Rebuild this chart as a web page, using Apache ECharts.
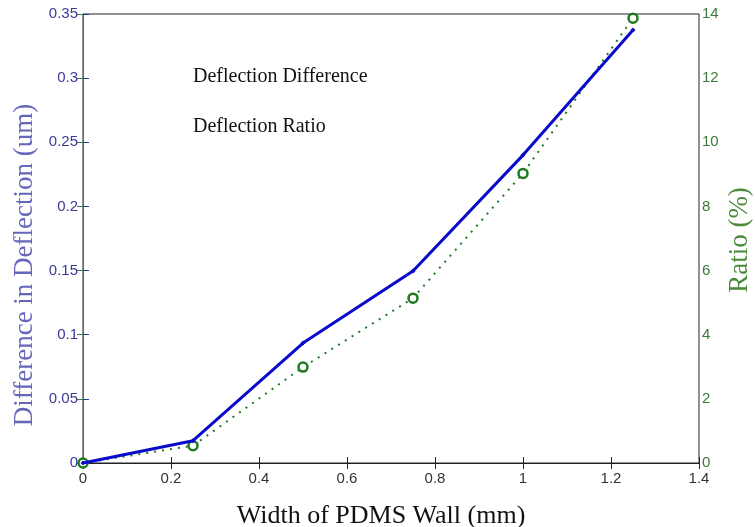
<!DOCTYPE html>
<html>
<head>
<meta charset="utf-8">
<script src="https://cdn.jsdelivr.net/npm/echarts@6/dist/echarts.min.js"></script>
<style>
  html, body { margin: 0; padding: 0; background: #fff; }
  #chart { width: 755px; height: 527px; }
</style>
</head>
<body>
<div id="chart"></div>
<script>
// Wall width (mm)
const widths = [0, 0.25, 0.5, 0.75, 1.0, 1.25];
// Difference in deflection (um)
const deflectionDiff = [0, 0.0174, 0.0935, 0.1497, 0.240, 0.3375];
// Deflection ratio (%)
const deflectionRatio = [0, 0.54, 2.99, 5.14, 9.03, 13.87];

const serif = '"Liberation Serif", "Times New Roman", serif';
const sans = '"Liberation Sans", Arial, sans-serif';

const chart = echarts.init(document.getElementById('chart'));

chart.setOption({
  animation: false,
  grid: {
    left: 83, right: 56, top: 14, bottom: 64,
    containLabel: false, outerBoundsMode: 'none',
    show: true, borderColor: '#222', borderWidth: 1
  },
  xAxis: [{
    type: 'value',
    min: 0, max: 1.4, interval: 0.2,
    name: 'Width of PDMS Wall (mm)',
    nameLocation: 'middle',
    nameGap: 40,
    nameTextStyle: { fontFamily: serif, fontSize: 26, color: '#111', padding: [0, 20, 0, 0] },
    axisLine: { show: true, lineStyle: { color: '#222', width: 1 } },
    axisTick: { show: true, inside: true, length: 6, lineStyle: { color: '#222' } },
    axisLabel: {
      fontFamily: sans, fontSize: 15, color: '#333', margin: 8,
      formatter: v => String(+v.toFixed(1))
    },
    splitLine: { show: false }
  }, {
    type: 'value',
    position: 'top',
    min: 0, max: 1.4, interval: 0.2,
    axisLine: { show: true, lineStyle: { color: '#222' } },
    axisTick: { show: true, inside: true, length: 6, lineStyle: { color: '#222' } },
    axisLabel: { show: false },
    splitLine: { show: false }
  }],
  yAxis: [{
    type: 'value',
    min: 0, max: 0.35, interval: 0.05,
    axisLine: { show: true, lineStyle: { color: '#33339a', width: 1 } },
    axisTick: { show: true, inside: true, length: 6, lineStyle: { color: '#33339a' } },
    axisLabel: {
      fontFamily: sans, fontSize: 15, color: '#3a3a9a', margin: 5,
      formatter: v => String(+v.toFixed(2))
    },
    splitLine: { show: false }
  }, {
    type: 'value',
    min: 0, max: 14, interval: 2,
    position: 'right',
    axisLine: { show: true, lineStyle: { color: '#3a8a3a', width: 1 } },
    axisTick: { show: true, inside: true, length: 6, lineStyle: { color: '#3a8a3a' } },
    axisLabel: { fontFamily: sans, fontSize: 15, color: '#3a7a3a', margin: 3 },
    splitLine: { show: false }
  }],
  graphic: [
    // axis titles
    { type: 'text', x: 25, y: 265, rotation: Math.PI / 2,
      style: { text: 'Difference in Deflection (um)', font: '27px ' + serif, fill: '#6666bb', align: 'center', verticalAlign: 'middle' } },
    { type: 'text', x: 740, y: 240, rotation: Math.PI / 2,
      style: { text: 'Ratio (%)', font: '27px ' + serif, fill: '#4a8a3a', align: 'center', verticalAlign: 'middle' } },
    // series captions
    { type: 'text', x: 193, y: 77,
      style: { text: 'Deflection Difference', font: '20px ' + serif, fill: '#111', align: 'left', verticalAlign: 'middle' } },
    { type: 'text', x: 193, y: 127,
      style: { text: 'Deflection Ratio', font: '20px ' + serif, fill: '#111', align: 'left', verticalAlign: 'middle' } }
  ],
  series: [{
    name: 'Deflection Difference',
    type: 'line',
    xAxisIndex: 0,
    yAxisIndex: 0,
    data: widths.map((w, i) => [w, deflectionDiff[i]]),
    symbol: 'diamond',
    symbolSize: 5,
    lineStyle: { color: '#0a0acc', width: 3 },
    itemStyle: { color: '#0a0acc' },
    z: 3
  }, {
    name: 'Deflection Ratio',
    type: 'line',
    xAxisIndex: 0,
    yAxisIndex: 1,
    data: widths.map((w, i) => [w, deflectionRatio[i]]),
    symbol: 'circle',
    symbolSize: 9,
    showAllSymbol: true,
    lineStyle: { color: '#1f7a1f', width: 2, type: [2, 6] },
    itemStyle: { color: '#fff', borderColor: '#1f7a1f', borderWidth: 2.5 },
    z: 2
  }]
});
</script>
</body>
</html>
